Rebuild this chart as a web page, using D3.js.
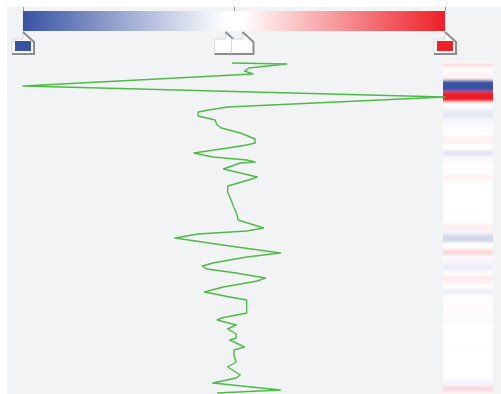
<!DOCTYPE html>
<html>
<head>
<meta charset="utf-8">
<script src="https://cdn.jsdelivr.net/npm/d3@7"></script>
<style>
  html, body { margin: 0; padding: 0; background: #ffffff; }
  svg { display: block; }
</style>
</head>
<body>
<svg id="chart" width="501" height="394"></svg>
<script>
// Colour ramp: stop positions (value units) and their colours
const colorStops = [-1, -0.04, 0.04, 1];
const stopColors = ["#3953a4", "#ffffff", "#ffffff", "#ed1f27"];
const rampTicks = [-1, 0, 1];

// Log samples: depth below the top of the track, and the measured value
const depth = [1, 2, 6, 9, 12, 24, 35, 45, 48, 50,
  54, 58, 63, 66, 71, 77, 81, 83, 86, 91,
  95, 98, 100, 101, 107, 111, 115, 118, 124, 130,
  140, 146, 150, 158, 162, 166, 169, 172, 176, 184,
  191, 195, 201, 204, 207, 211, 216, 219, 225, 230,
  235, 238, 251, 256, 258, 263, 267, 272, 276, 278,
  285, 288, 294, 300, 305, 313, 316, 321, 328, 331];
const value = [-0.01, 0.25, 0.07, 0.05, 0.09, -1.00, 1.00, -0.03, -0.12, -0.17,
  -0.17, -0.09, -0.08, -0.06, 0.03, 0.10, 0.10, 0.06, -0.03, -0.19,
  -0.10, 0.06, 0.10, 0.03, -0.05, 0.03, 0.11, 0.07, -0.03, -0.03,
  -0.01, 0.00, 0.01, 0.02, 0.08, 0.14, 0.06, -0.17, -0.28, -0.02,
  0.22, 0.06, -0.10, -0.15, -0.13, 0.01, 0.15, 0.11, -0.05, -0.14,
  -0.02, 0.06, 0.06, -0.06, -0.08, 0.01, -0.03, 0.01, 0.01, -0.02,
  0.05, 0.00, 0.00, 0.01, -0.03, 0.03, 0.01, -0.10, 0.22, -0.08];

const W = 501, H = 394;
const svg = d3.select("#chart");

// panel background
svg.append("rect")
  .attr("x", 7).attr("y", 7)
  .attr("width", W - 7).attr("height", H - 7)
  .attr("fill", "#f2f3f5");

const x = d3.scaleLinear().domain([-1, 1]).range([23, 445]);
const y = d3.scaleLinear().domain([0, 331]).range([62, 393]);
const color = d3.scaleLinear()
  .domain(colorStops)
  .range(stopColors)
  .interpolate(d3.interpolateRgb)
  .clamp(true);

const defs = svg.append("defs");

// horizontal ramp
const ramp = defs.append("linearGradient")
  .attr("id", "ramp")
  .attr("x1", "0%").attr("x2", "100%")
  .attr("y1", "0%").attr("y2", "0%");
ramp.selectAll("stop")
  .data(colorStops)
  .join("stop")
  .attr("offset", d => (x(d) - x(-1)) / (x(1) - x(-1)))
  .attr("stop-color", (d, i) => stopColors[i]);

svg.append("rect")
  .attr("x", x(-1)).attr("y", 11)
  .attr("width", x(1) - x(-1)).attr("height", 20)
  .attr("fill", "url(#ramp)");

// small ticks above the ramp
const axis = svg.append("g")
  .attr("transform", "translate(0,11)")
  .call(d3.axisTop(x).tickValues(rampTicks).tickSize(4).tickFormat(""));
axis.select(".domain").remove();
axis.selectAll(".tick line").attr("stroke", "#9a9a9a");

// stop handles under the ramp
const handle = svg.append("g")
  .selectAll("g")
  .data(colorStops)
  .join("g")
  .attr("transform", d => `translate(${x(d)},0)`);
handle.append("path")
  .attr("d", "M0,32 L11,42 L11,54 L-11,54 L-11,39 L0,39 Z")
  .attr("fill", "#fbfbfb");
handle.append("path")
  .attr("d", "M-11,54 L-11,39 L0,39 L0,32")
  .attr("fill", "none")
  .attr("stroke", "#d8d8d8")
  .attr("stroke-width", 1);
handle.append("path")
  .attr("d", "M0,32 L11,42 L11,54 L-11,54")
  .attr("fill", "none")
  .attr("stroke", "#8e8e8e")
  .attr("stroke-width", 2);
handle.append("rect")
  .attr("x", -8).attr("y", 41)
  .attr("width", 16).attr("height", 10)
  .attr("fill", (d, i) => stopColors[i]);

// colour track on the right: each sample fills the span to its neighbours' midpoints
const trackX = 443, trackW = 50;
defs.append("clipPath").attr("id", "trackClip")
  .append("rect")
  .attr("x", trackX).attr("y", y(0))
  .attr("width", trackW).attr("height", y(331) - y(0));
const soft = defs.append("filter")
  .attr("id", "soft")
  .attr("x", "-5%").attr("y", "-5%")
  .attr("width", "110%").attr("height", "110%");
soft.append("feGaussianBlur").attr("stdDeviation", "0 1.6");

const track = svg.append("g").attr("clip-path", "url(#trackClip)");
track.append("rect")
  .attr("x", trackX).attr("y", y(0))
  .attr("width", trackW).attr("height", y(331) - y(0))
  .attr("fill", "#ffffff");
const n = depth.length;
track.append("g")
  .attr("filter", "url(#soft)")
  .selectAll("rect")
  .data(d3.range(n))
  .join("rect")
  .attr("x", trackX)
  .attr("width", trackW)
  .attr("y", i => y(i === 0 ? 0 : (depth[i - 1] + depth[i]) / 2))
  .attr("height", i => {
    const a = i === 0 ? 0 : (depth[i - 1] + depth[i]) / 2;
    const b = i === n - 1 ? 331 : (depth[i] + depth[i + 1]) / 2;
    return y(b) - y(a);
  })
  .attr("fill", i => color(value[i]));

// log curve
const line = d3.line()
  .x(i => x(value[i]))
  .y(i => y(depth[i]));
svg.append("path")
  .datum(d3.range(n))
  .attr("d", line)
  .attr("fill", "none")
  .attr("stroke", "#4fba48")
  .attr("stroke-width", 1.4)
  .attr("stroke-linejoin", "round");
</script>
</body>
</html>
